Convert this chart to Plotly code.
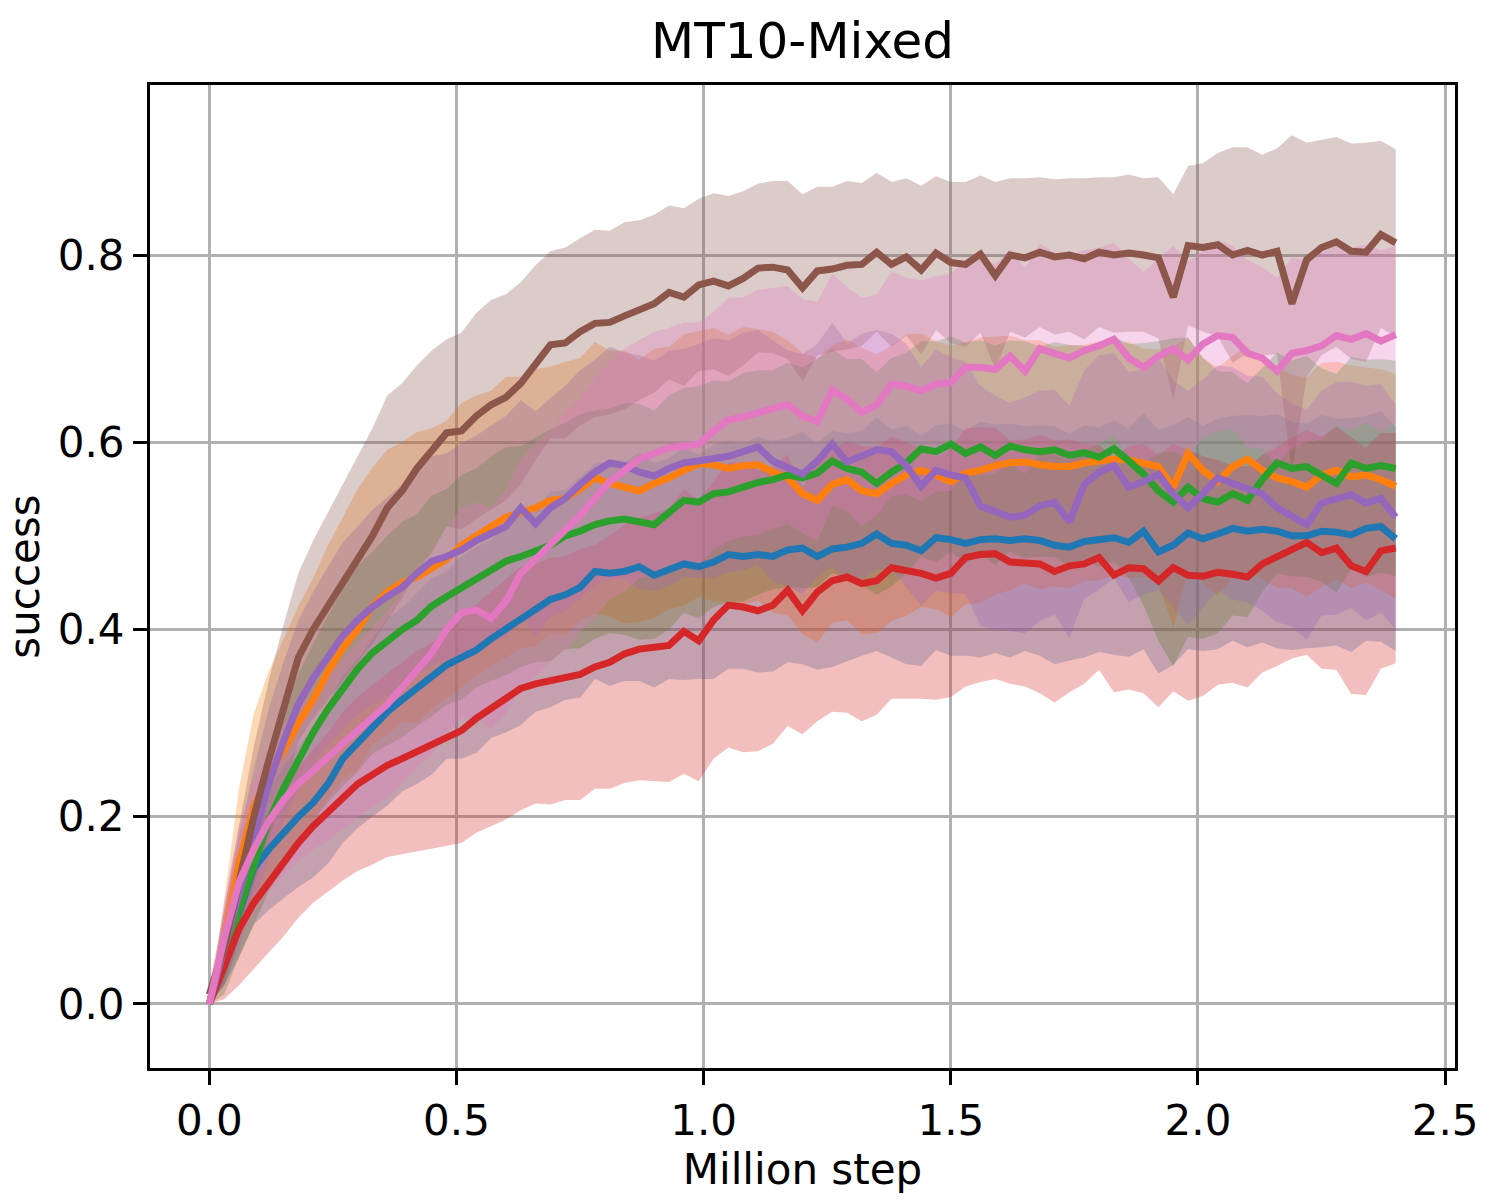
import numpy as np
import plotly.graph_objects as go

# x grid (million steps)
steps = [round(i * 0.03, 2) for i in range(81)]

# ---- mean success per method ----
blue_mean = [0.0, 0.05, 0.10, 0.145, 0.165, 0.183, 0.20, 0.215, 0.235, 0.262,
             0.278, 0.295, 0.312, 0.325, 0.337, 0.35, 0.362, 0.37, 0.378, 0.39,
             0.40, 0.41, 0.42, 0.432, 0.437, 0.445, 0.462, 0.46, 0.462, 0.467,
             0.458, 0.465, 0.47, 0.467, 0.472, 0.48, 0.478, 0.48, 0.478, 0.485,
             0.487, 0.478, 0.486, 0.488, 0.492, 0.502, 0.492, 0.49, 0.484, 0.498,
             0.496, 0.492, 0.496, 0.497, 0.495, 0.497, 0.495, 0.49, 0.488, 0.494,
             0.496, 0.498, 0.493, 0.505, 0.483, 0.49, 0.503, 0.497, 0.502, 0.508,
             0.505, 0.507, 0.505, 0.50, 0.50, 0.505, 0.504, 0.501, 0.508, 0.51,
             0.497]
orange_mean = [0.0, 0.07, 0.15, 0.21, 0.245, 0.27, 0.30, 0.325, 0.355, 0.38,
               0.40, 0.425, 0.44, 0.45, 0.456, 0.465, 0.475, 0.49, 0.50, 0.508,
               0.52, 0.525, 0.53, 0.538, 0.54, 0.55, 0.562, 0.556, 0.552, 0.548,
               0.556, 0.562, 0.57, 0.577, 0.576, 0.572, 0.575, 0.576, 0.568, 0.562,
               0.545, 0.538, 0.555, 0.56, 0.548, 0.545, 0.556, 0.565, 0.57, 0.565,
               0.558, 0.567, 0.57, 0.575, 0.578, 0.579, 0.576, 0.574, 0.574, 0.578,
               0.58, 0.582, 0.581, 0.578, 0.574, 0.552, 0.588, 0.57, 0.558, 0.574,
               0.582, 0.57, 0.562, 0.558, 0.552, 0.565, 0.57, 0.563, 0.565, 0.56,
               0.553]
green_mean = [0.0, 0.04, 0.10, 0.15, 0.195, 0.23, 0.262, 0.29, 0.315, 0.338,
              0.358, 0.375, 0.388, 0.40, 0.41, 0.425, 0.435, 0.445, 0.455, 0.465,
              0.473, 0.478, 0.485, 0.49, 0.50, 0.505, 0.512, 0.516, 0.518, 0.515,
              0.512, 0.525, 0.538, 0.536, 0.545, 0.547, 0.552, 0.557, 0.56, 0.565,
              0.562, 0.567, 0.58, 0.572, 0.568, 0.556, 0.568, 0.578, 0.593, 0.59,
              0.598, 0.588, 0.595, 0.586, 0.596, 0.592, 0.59, 0.592, 0.586, 0.589,
              0.584, 0.593, 0.58, 0.566, 0.548, 0.536, 0.552, 0.54, 0.536, 0.545,
              0.538, 0.56, 0.578, 0.572, 0.574, 0.565, 0.556, 0.578, 0.572, 0.575,
              0.572]
red_mean = [0.0, 0.04, 0.08, 0.108, 0.13, 0.15, 0.172, 0.19, 0.205, 0.222,
            0.235, 0.245, 0.255, 0.262, 0.27, 0.276, 0.284, 0.292, 0.305, 0.315,
            0.325, 0.337, 0.342, 0.345, 0.348, 0.352, 0.36, 0.365, 0.374, 0.379,
            0.381, 0.383, 0.398, 0.388, 0.41, 0.426, 0.424, 0.42, 0.426, 0.442,
            0.42, 0.44, 0.452, 0.456, 0.449, 0.452, 0.466, 0.463, 0.46, 0.455,
            0.46, 0.477, 0.48, 0.481, 0.472, 0.471, 0.47, 0.462, 0.468, 0.47,
            0.477, 0.458, 0.466, 0.465, 0.452, 0.466, 0.458, 0.457, 0.461, 0.459,
            0.456, 0.47, 0.478, 0.487, 0.493, 0.482, 0.487, 0.468, 0.462, 0.484,
            0.487]
purple_mean = [0.0, 0.06, 0.12, 0.18, 0.235, 0.28, 0.32, 0.348, 0.372, 0.393,
               0.41, 0.424, 0.435, 0.445, 0.46, 0.473, 0.478, 0.485, 0.495, 0.503,
               0.51, 0.53, 0.513, 0.53, 0.54, 0.555, 0.568, 0.578, 0.575, 0.568,
               0.564, 0.572, 0.578, 0.58, 0.583, 0.585, 0.59, 0.595, 0.58, 0.572,
               0.566, 0.58, 0.598, 0.579, 0.585, 0.592, 0.59, 0.575, 0.553, 0.57,
               0.565, 0.562, 0.532, 0.525, 0.52, 0.522, 0.532, 0.536, 0.515, 0.555,
               0.568, 0.575, 0.552, 0.558, 0.566, 0.545, 0.53, 0.545, 0.562, 0.556,
               0.55, 0.545, 0.53, 0.522, 0.512, 0.535, 0.54, 0.544, 0.535, 0.54,
               0.52]
brown_mean = [0.01, 0.06, 0.13, 0.20, 0.26, 0.315, 0.37, 0.40, 0.425, 0.45,
              0.475, 0.50, 0.53, 0.548, 0.572, 0.59, 0.61, 0.612, 0.628, 0.64,
              0.648, 0.663, 0.685, 0.704, 0.706, 0.718, 0.727, 0.728, 0.735, 0.741,
              0.748, 0.76, 0.755, 0.768, 0.772, 0.767, 0.775, 0.786, 0.787, 0.784,
              0.765, 0.783, 0.785, 0.789, 0.79, 0.803, 0.79, 0.798, 0.784, 0.802,
              0.792, 0.79, 0.801, 0.778, 0.80, 0.797, 0.803, 0.798, 0.80, 0.796,
              0.803, 0.80, 0.802, 0.80, 0.797, 0.755, 0.81, 0.808, 0.811, 0.80,
              0.805, 0.80, 0.804, 0.748, 0.795, 0.808, 0.814, 0.804, 0.803, 0.822,
              0.813]
pink_mean = [0.0, 0.07, 0.13, 0.165, 0.195, 0.218, 0.235, 0.25, 0.263, 0.278,
             0.292, 0.307, 0.32, 0.338, 0.358, 0.375, 0.40, 0.418, 0.421, 0.412,
             0.43, 0.46, 0.475, 0.49, 0.505, 0.522, 0.54, 0.558, 0.57, 0.582,
             0.588, 0.594, 0.596, 0.598, 0.612, 0.624, 0.627, 0.632, 0.636, 0.64,
             0.628, 0.622, 0.656, 0.646, 0.632, 0.64, 0.662, 0.66, 0.655, 0.662,
             0.664, 0.68, 0.68, 0.678, 0.692, 0.676, 0.70, 0.695, 0.69, 0.698,
             0.703, 0.71, 0.69, 0.68, 0.692, 0.70, 0.688, 0.705, 0.714, 0.712,
             0.695, 0.69, 0.676, 0.695, 0.698, 0.703, 0.714, 0.71, 0.716, 0.708,
             0.715]

# ---- standard deviation per method ----
blue_std = [0.0, 0.03, 0.05, 0.06, 0.065, 0.07, 0.075, 0.08, 0.085, 0.09,
            0.09, 0.095, 0.10, 0.098, 0.102, 0.105, 0.10, 0.108, 0.11, 0.106,
            0.11, 0.112, 0.108, 0.115, 0.112, 0.118, 0.115, 0.12, 0.117, 0.122,
            0.12, 0.118, 0.124, 0.12, 0.125, 0.122, 0.12, 0.126, 0.123, 0.12,
            0.124, 0.121, 0.126, 0.122, 0.12, 0.125, 0.122, 0.127, 0.123, 0.12,
            0.124, 0.12, 0.126, 0.122, 0.125, 0.12, 0.123, 0.127, 0.121, 0.124,
            0.12, 0.125, 0.122, 0.126, 0.13, 0.128, 0.124, 0.12, 0.123, 0.12,
            0.124, 0.121, 0.125, 0.122, 0.12, 0.124, 0.121, 0.125, 0.12, 0.123,
            0.12]
orange_std = [0.0, 0.04, 0.08, 0.10, 0.11, 0.12, 0.125, 0.13, 0.135, 0.14,
              0.15, 0.148, 0.152, 0.15, 0.155, 0.15, 0.148, 0.152, 0.15, 0.147,
              0.15, 0.145, 0.148, 0.143, 0.146, 0.14, 0.145, 0.142, 0.146, 0.14,
              0.144, 0.14, 0.145, 0.142, 0.146, 0.143, 0.148, 0.145, 0.15, 0.147,
              0.15, 0.152, 0.148, 0.15, 0.153, 0.149, 0.147, 0.15, 0.146, 0.143,
              0.145, 0.14, 0.142, 0.138, 0.136, 0.13, 0.133, 0.128, 0.13, 0.126,
              0.128, 0.124, 0.126, 0.122, 0.125, 0.15, 0.124, 0.12, 0.122, 0.118,
              0.12, 0.116, 0.118, 0.114, 0.117, 0.12, 0.116, 0.119, 0.115, 0.118,
              0.12]
green_std = [0.0, 0.03, 0.05, 0.065, 0.075, 0.085, 0.09, 0.095, 0.10, 0.105,
             0.11, 0.108, 0.112, 0.115, 0.113, 0.118, 0.115, 0.12, 0.117, 0.12,
             0.122, 0.118, 0.12, 0.124, 0.121, 0.125, 0.122, 0.12, 0.124, 0.126,
             0.122, 0.125, 0.12, 0.124, 0.121, 0.118, 0.122, 0.12, 0.117, 0.12,
             0.118, 0.122, 0.12, 0.117, 0.121, 0.119, 0.122, 0.118, 0.115, 0.118,
             0.115, 0.118, 0.114, 0.117, 0.113, 0.116, 0.112, 0.115, 0.118, 0.114,
             0.117, 0.12, 0.125, 0.14, 0.16, 0.175, 0.16, 0.15, 0.14, 0.13,
             0.125, 0.12, 0.118, 0.115, 0.118, 0.114, 0.117, 0.113, 0.116, 0.114,
             0.115]
red_std = [0.0, 0.035, 0.06, 0.07, 0.075, 0.078, 0.08, 0.082, 0.085, 0.09,
           0.093, 0.096, 0.098, 0.102, 0.107, 0.11, 0.115, 0.12, 0.122, 0.125,
           0.128, 0.13, 0.128, 0.132, 0.13, 0.134, 0.13, 0.135, 0.138, 0.14,
           0.143, 0.146, 0.152, 0.15, 0.148, 0.152, 0.155, 0.15, 0.148, 0.145,
           0.132, 0.138, 0.14, 0.145, 0.147, 0.143, 0.14, 0.137, 0.134, 0.13,
           0.132, 0.138, 0.136, 0.134, 0.13, 0.132, 0.138, 0.14, 0.135, 0.128,
           0.12, 0.125, 0.13, 0.133, 0.135, 0.132, 0.134, 0.128, 0.12, 0.116,
           0.118, 0.116, 0.117, 0.118, 0.12, 0.124, 0.13, 0.137, 0.132, 0.126,
           0.123]
purple_std = [0.0, 0.04, 0.06, 0.07, 0.08, 0.085, 0.09, 0.092, 0.095, 0.10,
              0.10, 0.104, 0.106, 0.11, 0.108, 0.112, 0.11, 0.114, 0.112, 0.115,
              0.118, 0.115, 0.12, 0.117, 0.12, 0.122, 0.12, 0.124, 0.121, 0.125,
              0.123, 0.126, 0.122, 0.125, 0.128, 0.124, 0.127, 0.125, 0.129, 0.126,
              0.128, 0.125, 0.13, 0.127, 0.131, 0.128, 0.126, 0.13, 0.127, 0.129,
              0.126, 0.124, 0.128, 0.125, 0.122, 0.126, 0.123, 0.12, 0.124, 0.122,
              0.125, 0.12, 0.123, 0.12, 0.124, 0.121, 0.125, 0.122, 0.12, 0.124,
              0.121, 0.125, 0.122, 0.119, 0.123, 0.12, 0.124, 0.121, 0.125, 0.122,
              0.12]
brown_std = [0.01, 0.04, 0.06, 0.075, 0.085, 0.09, 0.09, 0.095, 0.10, 0.105,
             0.11, 0.115, 0.12, 0.115, 0.11, 0.108, 0.10, 0.105, 0.11, 0.112,
             0.11, 0.108, 0.104, 0.10, 0.102, 0.10, 0.10, 0.098, 0.10, 0.096,
             0.095, 0.093, 0.095, 0.092, 0.094, 0.096, 0.093, 0.09, 0.092, 0.095,
             0.10, 0.09, 0.088, 0.09, 0.087, 0.085, 0.088, 0.084, 0.09, 0.082,
             0.086, 0.088, 0.084, 0.10, 0.082, 0.085, 0.08, 0.083, 0.082, 0.086,
             0.08, 0.083, 0.084, 0.082, 0.086, 0.11, 0.085, 0.09, 0.098, 0.115,
             0.11, 0.107, 0.11, 0.18, 0.125, 0.115, 0.112, 0.115, 0.117, 0.10,
             0.10]
pink_std = [0.0, 0.04, 0.06, 0.07, 0.075, 0.08, 0.082, 0.085, 0.088, 0.09,
            0.093, 0.096, 0.10, 0.102, 0.105, 0.108, 0.11, 0.112, 0.115, 0.118,
            0.12, 0.122, 0.125, 0.123, 0.127, 0.125, 0.128, 0.126, 0.13, 0.127,
            0.13, 0.128, 0.132, 0.13, 0.127, 0.13, 0.128, 0.131, 0.129, 0.127,
            0.125, 0.128, 0.124, 0.12, 0.122, 0.118, 0.12, 0.116, 0.118, 0.115,
            0.116, 0.113, 0.115, 0.112, 0.114, 0.11, 0.112, 0.108, 0.11, 0.107,
            0.105, 0.103, 0.106, 0.102, 0.104, 0.11, 0.105, 0.10, 0.102, 0.098,
            0.10, 0.097, 0.10, 0.102, 0.098, 0.10, 0.096, 0.098, 0.095, 0.097,
            0.095]

x_ticks = [0.0, 0.5, 1.0, 1.5, 2.0, 2.5]
x_ticklabels = ["0.0", "0.5", "1.0", "1.5", "2.0", "2.5"]
y_ticks = [0.0, 0.2, 0.4, 0.6, 0.8]
y_ticklabels = ["0.0", "0.2", "0.4", "0.6", "0.8"]

series = [
    (blue_mean, blue_std, (31, 119, 180)),
    (orange_mean, orange_std, (255, 127, 14)),
    (green_mean, green_std, (44, 160, 44)),
    (red_mean, red_std, (214, 39, 40)),
    (purple_mean, purple_std, (148, 103, 189)),
    (brown_mean, brown_std, (140, 86, 75)),
    (pink_mean, pink_std, (227, 119, 194)),
]

fig = go.Figure()
x = np.array(steps)
# shaded std bands (base axes, below the grid)
for mean, std, (r, g, b) in series:
    m = np.array(mean)
    s = np.array(std)
    upper = m + s
    lower = m - s
    fig.add_trace(go.Scatter(
        x=np.concatenate([x, x[::-1]]),
        y=np.concatenate([upper, lower[::-1]]),
        fill="toself", fillcolor=f"rgba({r},{g},{b},0.3)",
        line=dict(width=0), mode="lines", hoverinfo="skip",
        showlegend=False, xaxis="x", yaxis="y"))
# mean lines (overlay axes, above the grid)
for mean, std, (r, g, b) in series:
    fig.add_trace(go.Scatter(
        x=steps, y=mean, mode="lines",
        line=dict(color=f"rgb({r},{g},{b})", width=7),
        showlegend=False, xaxis="x2", yaxis="y2"))

FONT = "DejaVu Sans"
xr = [-0.12, 2.52]
yr = [-0.0684, 0.9816]
common = dict(zeroline=False)
fig.update_layout(
    width=1500, height=1200,
    margin=dict(l=150, r=45, t=85, b=132),
    paper_bgcolor="white", plot_bgcolor="white",
    font=dict(family=FONT, color="black"),
    showlegend=False,
    title=dict(text="MT10-Mixed", x=0.535, xanchor="center",
               y=0.966, yanchor="middle", font=dict(size=50, family=FONT)),
    xaxis=dict(range=xr, tickvals=x_ticks, ticktext=x_ticklabels,
               showgrid=False, showline=True, linecolor="black", linewidth=3,
               mirror=True, ticks="outside", ticklen=14, tickwidth=3,
               tickcolor="black", tickfont=dict(size=42),
               title=dict(text="Million step", font=dict(size=42), standoff=10),
               **common),
    yaxis=dict(range=yr, tickvals=y_ticks, ticktext=y_ticklabels,
               showgrid=False, showline=True, linecolor="black", linewidth=3,
               mirror=True, ticks="outside", ticklen=14, tickwidth=3,
               tickcolor="black", tickfont=dict(size=42),
               title=dict(text="success", font=dict(size=42), standoff=16),
               **common),
    xaxis2=dict(range=xr, overlaying="x", anchor="y2", tickvals=x_ticks,
                showgrid=True, gridcolor="#b0b0b0", gridwidth=3,
                showticklabels=False, ticks="", showline=False, **common),
    yaxis2=dict(range=yr, overlaying="y", anchor="x2", tickvals=y_ticks,
                showgrid=True, gridcolor="#b0b0b0", gridwidth=3,
                showticklabels=False, ticks="", showline=False, **common),
)

fig.write_html("out.html")
